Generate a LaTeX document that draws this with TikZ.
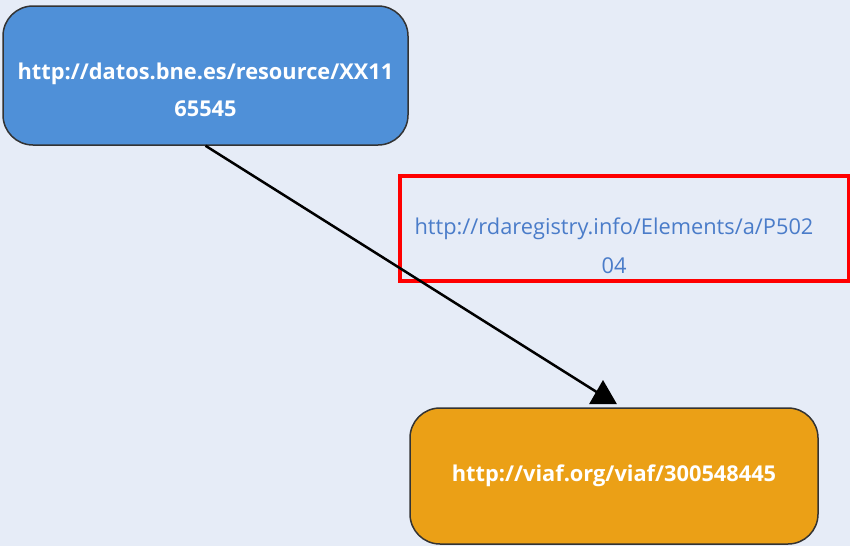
\documentclass[tikz,border=0pt]{standalone}
\usepackage{fontspec}
\setmainfont{Open Sans}
\usepackage{tikz}
\usetikzlibrary{arrows,shapes.geometric,positioning}

\definecolor{pagebg}{RGB}{230,236,247}
\definecolor{subjblue}{RGB}{79,144,216}
\definecolor{objorange}{RGB}{235,160,22}
\definecolor{predblue}{RGB}{74,124,201}
\definecolor{boxred}{RGB}{255,0,0}

\begin{document}
\begin{tikzpicture}[x=1pt,y=-1pt,line width=2.5pt,
	box/.style={draw=black!80,line width=1.5pt,rounded corners=30pt,inner sep=0pt},
	subject/.style={box,fill=subjblue,minimum width=405pt,minimum height=139pt},
	object/.style={box,fill=objorange,minimum width=408pt,minimum height=136pt,text=white,font=\fontsize{21.8}{37}\selectfont\bfseries},
	uri/.style={text=white,align=center,font=\fontsize{21.8}{37}\selectfont\bfseries},
	predicate/.style={draw=boxred,line width=4pt,minimum width=449pt,minimum height=105pt,inner sep=0pt},
	predtext/.style={text=predblue,align=center,font=\fontsize{21.8}{39}\selectfont},
	head/.style={regular polygon,regular polygon sides=3,fill=black,inner sep=0pt,minimum size=32pt}]
	\useasboundingbox[fill=pagebg] (0,0) rectangle (850,546);
	\node[subject]		(bne)		at (205.5,75.5)		{};
	\node[uri]			(bnetext)	at (205.5,90)		{http://datos.bne.es/resource/XX11\\65545};
	\node[object]		(viaf)		at (614,476)		{http://viaf.org/viaf/300548445};
	\node[head]			(tip)		at (603,396)		{};
	\node[predicate]	(rdabox)	at (624.5,228.5)	{};
	\node[predtext]		(rda)		at (614,245.5)		{http://rdaregistry.info/Elements/a/P502\\04};

	\draw (bne.south) -- (tip.center);
\end{tikzpicture}
\end{document}
